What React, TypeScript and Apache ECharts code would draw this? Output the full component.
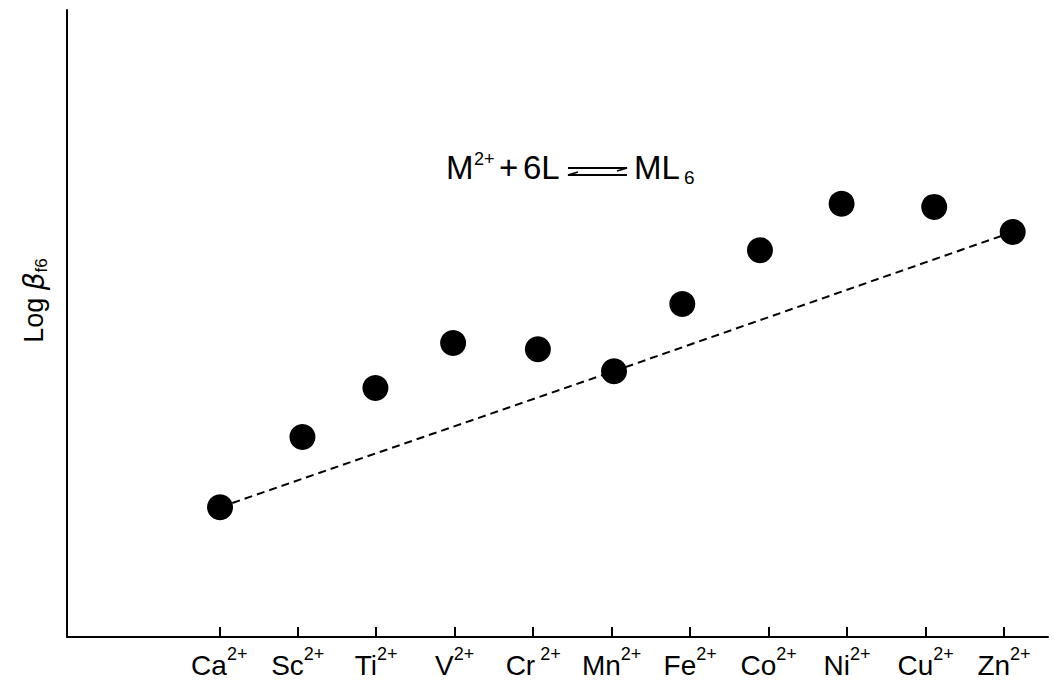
import React, { useEffect, useRef } from "react";
import * as echarts from "echarts";

// Metal ions (categories) and their charge
const ions = ["Ca", "Sc", "Ti", "V", "Cr", "Mn", "Fe", "Co", "Ni", "Cu", "Zn"];
const ionCharge = ["2+", "2+", "2+", "2+", " 2+", "2+", "2+", "2+", "2+", "2+", "2+"];
// Tick positions of the ions on the x axis
const tickIndex = [0, 1, 2, 3, 4, 5, 6, 7, 8, 9, 10];
// Horizontal position of each point (slightly offset from the ticks in the figure)
const pointX = [0.01, 1.06, 1.99, 2.98, 4.06, 5.03, 5.9, 6.89, 7.93, 9.11, 10.11];
// log beta values (arbitrary units, axis 0..100)
const logBeta = [20.7, 31.9, 39.7, 46.9, 45.9, 42.4, 53.1, 61.7, 69.1, 68.6, 64.6];
// Ions with no crystal-field stabilisation (d0, d5, d10) define the dashed baseline
const baselineIons = [0, 5, 10];

export default function App() {
  const ref = useRef<HTMLDivElement>(null);
  useEffect(() => {
    document.body.style.margin = "0";
    if (!ref.current) return;
    const chart = echarts.init(ref.current, null, { renderer: "svg" });
    const font = "'Liberation Sans', Arial, Helvetica, sans-serif";
    const points = pointX.map((x, i) => [x, logBeta[i]]);
    const baseline = baselineIons.map((i) => [pointX[i], logBeta[i]]);
    chart.setOption({
      animation: false,
      backgroundColor: "#ffffff",
      textStyle: { fontFamily: font, color: "#000" },
      grid: { left: 67, right: 5, top: 10, bottom: 48 },
      xAxis: {
        type: "value",
        min: -1.94,
        max: 10.56,
        splitLine: { show: false },
        axisLine: { show: true, onZero: false, lineStyle: { color: "#000", width: 2 } },
        axisTick: {
          show: true,
          inside: true,
          length: 10,
          customValues: tickIndex,
          lineStyle: { color: "#000", width: 2 },
        },
        axisLabel: {
          show: true,
          customValues: tickIndex,
          margin: 8,
          formatter: (v: number) => {
            const i = Math.round(v);
            return `{n|${ions[i]}}{s|${ionCharge[i]}}`;
          },
          rich: {
            n: {
              fontSize: 28,
              lineHeight: 34,
              verticalAlign: "bottom",
              color: "#000",
              fontFamily: font,
            },
            s: {
              fontSize: 18,
              lineHeight: 34,
              verticalAlign: "top",
              color: "#000",
              fontFamily: font,
            },
          },
        },
      },
      yAxis: {
        type: "value",
        min: 0,
        max: 100,
        splitLine: { show: false },
        axisLabel: { show: false },
        axisTick: { show: false },
        axisLine: { show: true, onZero: false, lineStyle: { color: "#000", width: 2 } },
        name: "{a|Log }{b|β}{c|f6}",
        nameLocation: "middle",
        nameRotate: 90,
        nameGap: 17,
        nameTextStyle: {
          padding: [0, 0, 0, 46],
          rich: {
            a: { fontSize: 27, lineHeight: 32, verticalAlign: "middle", color: "#000", fontFamily: font },
            b: {
              fontSize: 28,
              lineHeight: 32,
              verticalAlign: "middle",
              fontStyle: "italic",
              color: "#000",
              fontFamily: "'DejaVu Sans', " + font,
            },
            c: { fontSize: 17, lineHeight: 32, verticalAlign: "bottom", color: "#000", fontFamily: font },
          },
        },
      },
      series: [
        {
          type: "line",
          data: baseline,
          symbol: "none",
          lineStyle: { color: "#000", width: 2, type: [8, 5] },
          z: 1,
        },
        {
          type: "scatter",
          data: points,
          symbol: "circle",
          symbolSize: 26,
          itemStyle: { color: "#000", opacity: 1 },
          z: 2,
        },
      ],
      graphic: [
        {
          type: "group",
          children: [
            { type: "text", x: 446, y: 167, style: { text: "M", fontSize: 33, fontFamily: font, fill: "#000", verticalAlign: "middle" } },
            { type: "text", x: 474, y: 159, style: { text: "2+", fontSize: 18, fontFamily: font, fill: "#000", verticalAlign: "middle" } },
            { type: "text", x: 499, y: 167, style: { text: "+", fontSize: 33, fontFamily: font, fill: "#000", verticalAlign: "middle" } },
            { type: "text", x: 523, y: 167, style: { text: "6L", fontSize: 33, fontFamily: font, fill: "#000", verticalAlign: "middle" } },
            { type: "polyline", shape: { points: [[568, 168], [627, 168], [617, 171]] }, style: { stroke: "#000", lineWidth: 1.8, fill: null } },
            { type: "polyline", shape: { points: [[578, 172], [568, 175], [627, 175]] }, style: { stroke: "#000", lineWidth: 1.8, fill: null } },
            { type: "text", x: 634, y: 167, style: { text: "ML", fontSize: 33, fontFamily: font, fill: "#000", verticalAlign: "middle" } },
            { type: "text", x: 684, y: 177, style: { text: "6", fontSize: 19, fontFamily: font, fill: "#000", verticalAlign: "middle" } },
          ],
        },
      ],
    });
    return () => chart.dispose();
  }, []);
  return <div ref={ref} style={{ width: 1053, height: 685 }} />;
}
